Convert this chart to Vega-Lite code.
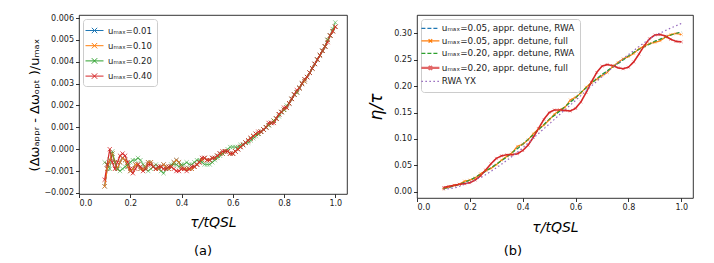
{
"$schema": "https://vega.github.io/schema/vega-lite/v6.json",
"background": "white",
"padding": {"left": 28, "top": 13, "right": 5, "bottom": 5},
"spacing": 19,
"resolve": {"scale": {"color": "independent", "strokeDash": "independent", "opacity": "independent", "strokeWidth": "independent"}, "legend": {"color": "independent", "strokeDash": "independent"}},
"config": {
  "font": "DejaVu Sans",
  "view": {"stroke": "black", "strokeWidth": 0.8},
  "axis": {"grid": false, "domain": false, "tickColor": "black", "tickSize": 3.5, "tickWidth": 0.8, "labelFontSize": 8, "labelColor": "#222", "labelPadding": 2, "titleFontWeight": "normal", "titleColor": "black", "labelFont": "DejaVu Sans", "titleFont": "DejaVu Sans"},
  "title": {"fontSize": 13, "fontWeight": "normal", "color": "black", "font": "DejaVu Sans"}
},
"hconcat": [
{
  "width": 268, "height": 179,
  "title": {"text": "(a)", "orient": "bottom", "frame": "group", "anchor": "middle", "dx": -10, "offset": 15},
  "data": {"values": [
{"s":"0.01","x":0.10,"y":-0.0017},{"s":"0.01","x":0.11,"y":-0.0009},{"s":"0.01","x":0.12,"y":-0.0005},{"s":"0.01","x":0.13,"y":-0.0002},{"s":"0.01","x":0.14,"y":-0.0006},{"s":"0.01","x":0.15,"y":-0.0009},{"s":"0.01","x":0.16,"y":-0.0006},{"s":"0.01","x":0.17,"y":-0.0004},{"s":"0.01","x":0.18,"y":-0.0005},{"s":"0.01","x":0.19,"y":-0.0008},
{"s":"0.01","x":0.20,"y":-0.0010},{"s":"0.01","x":0.21,"y":-0.0009},{"s":"0.01","x":0.22,"y":-0.0007},{"s":"0.01","x":0.23,"y":-0.0007},{"s":"0.01","x":0.24,"y":-0.0009},{"s":"0.01","x":0.25,"y":-0.0009},{"s":"0.01","x":0.26,"y":-0.0008},{"s":"0.01","x":0.27,"y":-0.0006},{"s":"0.01","x":0.28,"y":-0.0006},{"s":"0.01","x":0.29,"y":-0.0008},
{"s":"0.01","x":0.30,"y":-0.0009},{"s":"0.01","x":0.31,"y":-0.0009},{"s":"0.01","x":0.32,"y":-0.0008},{"s":"0.01","x":0.33,"y":-0.0007},{"s":"0.01","x":0.34,"y":-0.0008},{"s":"0.01","x":0.35,"y":-0.0009},{"s":"0.01","x":0.36,"y":-0.0008},{"s":"0.01","x":0.37,"y":-0.0006},{"s":"0.01","x":0.38,"y":-0.0005},{"s":"0.01","x":0.39,"y":-0.0006},
{"s":"0.01","x":0.40,"y":-0.0008},{"s":"0.01","x":0.41,"y":-0.0009},{"s":"0.01","x":0.42,"y":-0.0009},{"s":"0.01","x":0.43,"y":-0.0009},{"s":"0.01","x":0.44,"y":-0.0009},{"s":"0.01","x":0.45,"y":-0.0008},{"s":"0.01","x":0.46,"y":-0.0007},{"s":"0.01","x":0.47,"y":-0.0006},{"s":"0.01","x":0.48,"y":-0.0005},{"s":"0.01","x":0.49,"y":-0.0004},
{"s":"0.01","x":0.50,"y":-0.0005},{"s":"0.01","x":0.51,"y":-0.0005},{"s":"0.01","x":0.52,"y":-0.0004},{"s":"0.01","x":0.53,"y":-0.0004},{"s":"0.01","x":0.54,"y":-0.0003},{"s":"0.01","x":0.55,"y":-0.0002},{"s":"0.01","x":0.56,"y":-0.0002},{"s":"0.01","x":0.57,"y":-0.0001},{"s":"0.01","x":0.58,"y":-0.0001},{"s":"0.01","x":0.59,"y":-0.0002},
{"s":"0.01","x":0.60,"y":-0.0002},{"s":"0.01","x":0.61,"y":-0.0001},{"s":"0.01","x":0.62,"y":0.0000},{"s":"0.01","x":0.63,"y":0.0001},{"s":"0.01","x":0.64,"y":0.0002},{"s":"0.01","x":0.65,"y":0.0003},{"s":"0.01","x":0.66,"y":0.0004},{"s":"0.01","x":0.67,"y":0.0005},{"s":"0.01","x":0.68,"y":0.0006},{"s":"0.01","x":0.69,"y":0.0007},
{"s":"0.01","x":0.70,"y":0.0007},{"s":"0.01","x":0.71,"y":0.0008},{"s":"0.01","x":0.72,"y":0.0009},{"s":"0.01","x":0.73,"y":0.0010},{"s":"0.01","x":0.74,"y":0.0011},{"s":"0.01","x":0.75,"y":0.0012},{"s":"0.01","x":0.76,"y":0.0013},{"s":"0.01","x":0.77,"y":0.0014},{"s":"0.01","x":0.78,"y":0.0016},{"s":"0.01","x":0.79,"y":0.0017},
{"s":"0.01","x":0.80,"y":0.0018},{"s":"0.01","x":0.81,"y":0.0019},{"s":"0.01","x":0.82,"y":0.0021},{"s":"0.01","x":0.83,"y":0.0023},{"s":"0.01","x":0.84,"y":0.0025},{"s":"0.01","x":0.85,"y":0.0026},{"s":"0.01","x":0.86,"y":0.0028},{"s":"0.01","x":0.87,"y":0.0030},{"s":"0.01","x":0.88,"y":0.0031},{"s":"0.01","x":0.89,"y":0.0033},
{"s":"0.01","x":0.90,"y":0.0035},{"s":"0.01","x":0.91,"y":0.0037},{"s":"0.01","x":0.92,"y":0.0039},{"s":"0.01","x":0.93,"y":0.0041},{"s":"0.01","x":0.94,"y":0.0043},{"s":"0.01","x":0.95,"y":0.0045},{"s":"0.01","x":0.96,"y":0.0047},{"s":"0.01","x":0.97,"y":0.0050},{"s":"0.01","x":0.98,"y":0.0052},{"s":"0.01","x":0.99,"y":0.0054},{"s":"0.01","x":1.00,"y":0.0056},

{"s":"0.10","x":0.10,"y":-0.0017},{"s":"0.10","x":0.11,"y":-0.0009},{"s":"0.10","x":0.12,"y":-0.0005},{"s":"0.10","x":0.13,"y":-0.0002},{"s":"0.10","x":0.14,"y":-0.0006},{"s":"0.10","x":0.15,"y":-0.0009},{"s":"0.10","x":0.16,"y":-0.0006},{"s":"0.10","x":0.17,"y":-0.0004},{"s":"0.10","x":0.18,"y":-0.0005},{"s":"0.10","x":0.19,"y":-0.0008},
{"s":"0.10","x":0.20,"y":-0.0010},{"s":"0.10","x":0.21,"y":-0.0009},{"s":"0.10","x":0.22,"y":-0.0007},{"s":"0.10","x":0.23,"y":-0.0007},{"s":"0.10","x":0.24,"y":-0.0009},{"s":"0.10","x":0.25,"y":-0.0009},{"s":"0.10","x":0.26,"y":-0.0008},{"s":"0.10","x":0.27,"y":-0.0006},{"s":"0.10","x":0.28,"y":-0.0006},{"s":"0.10","x":0.29,"y":-0.0008},
{"s":"0.10","x":0.30,"y":-0.0009},{"s":"0.10","x":0.31,"y":-0.0009},{"s":"0.10","x":0.32,"y":-0.0008},{"s":"0.10","x":0.33,"y":-0.0007},{"s":"0.10","x":0.34,"y":-0.0008},{"s":"0.10","x":0.35,"y":-0.0009},{"s":"0.10","x":0.36,"y":-0.0008},{"s":"0.10","x":0.37,"y":-0.0006},{"s":"0.10","x":0.38,"y":-0.0005},{"s":"0.10","x":0.39,"y":-0.0006},
{"s":"0.10","x":0.40,"y":-0.0008},{"s":"0.10","x":0.41,"y":-0.0009},{"s":"0.10","x":0.42,"y":-0.0009},{"s":"0.10","x":0.43,"y":-0.0009},{"s":"0.10","x":0.44,"y":-0.0009},{"s":"0.10","x":0.45,"y":-0.0008},{"s":"0.10","x":0.46,"y":-0.0007},{"s":"0.10","x":0.47,"y":-0.0006},{"s":"0.10","x":0.48,"y":-0.0005},{"s":"0.10","x":0.49,"y":-0.0004},
{"s":"0.10","x":0.50,"y":-0.0005},{"s":"0.10","x":0.51,"y":-0.0005},{"s":"0.10","x":0.52,"y":-0.0004},{"s":"0.10","x":0.53,"y":-0.0004},{"s":"0.10","x":0.54,"y":-0.0003},{"s":"0.10","x":0.55,"y":-0.0002},{"s":"0.10","x":0.56,"y":-0.0002},{"s":"0.10","x":0.57,"y":-0.0001},{"s":"0.10","x":0.58,"y":-0.0001},{"s":"0.10","x":0.59,"y":-0.0002},
{"s":"0.10","x":0.60,"y":-0.0002},{"s":"0.10","x":0.61,"y":-0.0001},{"s":"0.10","x":0.62,"y":0.0000},{"s":"0.10","x":0.63,"y":0.0001},{"s":"0.10","x":0.64,"y":0.0002},{"s":"0.10","x":0.65,"y":0.0003},{"s":"0.10","x":0.66,"y":0.0004},{"s":"0.10","x":0.67,"y":0.0005},{"s":"0.10","x":0.68,"y":0.0006},{"s":"0.10","x":0.69,"y":0.0007},
{"s":"0.10","x":0.70,"y":0.0007},{"s":"0.10","x":0.71,"y":0.0008},{"s":"0.10","x":0.72,"y":0.0009},{"s":"0.10","x":0.73,"y":0.0010},{"s":"0.10","x":0.74,"y":0.0011},{"s":"0.10","x":0.75,"y":0.0012},{"s":"0.10","x":0.76,"y":0.0013},{"s":"0.10","x":0.77,"y":0.0014},{"s":"0.10","x":0.78,"y":0.0016},{"s":"0.10","x":0.79,"y":0.0017},
{"s":"0.10","x":0.80,"y":0.0018},{"s":"0.10","x":0.81,"y":0.0019},{"s":"0.10","x":0.82,"y":0.0021},{"s":"0.10","x":0.83,"y":0.0023},{"s":"0.10","x":0.84,"y":0.0025},{"s":"0.10","x":0.85,"y":0.0026},{"s":"0.10","x":0.86,"y":0.0028},{"s":"0.10","x":0.87,"y":0.0030},{"s":"0.10","x":0.88,"y":0.0031},{"s":"0.10","x":0.89,"y":0.0033},
{"s":"0.10","x":0.90,"y":0.0035},{"s":"0.10","x":0.91,"y":0.0037},{"s":"0.10","x":0.92,"y":0.0039},{"s":"0.10","x":0.93,"y":0.0041},{"s":"0.10","x":0.94,"y":0.0043},{"s":"0.10","x":0.95,"y":0.0045},{"s":"0.10","x":0.96,"y":0.0047},{"s":"0.10","x":0.97,"y":0.0050},{"s":"0.10","x":0.98,"y":0.0052},{"s":"0.10","x":0.99,"y":0.0054},{"s":"0.10","x":1.00,"y":0.0056},

{"s":"0.20","x":0.10,"y":-0.0006},{"s":"0.20","x":0.11,"y":-0.0007},{"s":"0.20","x":0.12,"y":-0.0009},{"s":"0.20","x":0.13,"y":-0.0001},{"s":"0.20","x":0.14,"y":-0.0006},{"s":"0.20","x":0.15,"y":-0.0009},{"s":"0.20","x":0.16,"y":-0.0010},{"s":"0.20","x":0.17,"y":-0.0009},{"s":"0.20","x":0.18,"y":-0.0008},{"s":"0.20","x":0.19,"y":-0.0007},
{"s":"0.20","x":0.20,"y":-0.0006},{"s":"0.20","x":0.21,"y":-0.0005},{"s":"0.20","x":0.22,"y":-0.0005},{"s":"0.20","x":0.23,"y":-0.0004},{"s":"0.20","x":0.24,"y":-0.0005},{"s":"0.20","x":0.25,"y":-0.0007},{"s":"0.20","x":0.26,"y":-0.0009},{"s":"0.20","x":0.27,"y":-0.0010},{"s":"0.20","x":0.28,"y":-0.0009},{"s":"0.20","x":0.29,"y":-0.0008},
{"s":"0.20","x":0.30,"y":-0.0007},{"s":"0.20","x":0.31,"y":-0.0008},{"s":"0.20","x":0.32,"y":-0.0010},{"s":"0.20","x":0.33,"y":-0.0011},{"s":"0.20","x":0.34,"y":-0.0009},{"s":"0.20","x":0.35,"y":-0.0008},{"s":"0.20","x":0.36,"y":-0.0007},{"s":"0.20","x":0.37,"y":-0.0007},{"s":"0.20","x":0.38,"y":-0.0007},{"s":"0.20","x":0.39,"y":-0.0008},
{"s":"0.20","x":0.40,"y":-0.0007},{"s":"0.20","x":0.41,"y":-0.0007},{"s":"0.20","x":0.42,"y":-0.0006},{"s":"0.20","x":0.43,"y":-0.0007},{"s":"0.20","x":0.44,"y":-0.0007},{"s":"0.20","x":0.45,"y":-0.0006},{"s":"0.20","x":0.46,"y":-0.0005},{"s":"0.20","x":0.47,"y":-0.0005},{"s":"0.20","x":0.48,"y":-0.0006},{"s":"0.20","x":0.49,"y":-0.0007},
{"s":"0.20","x":0.50,"y":-0.0007},{"s":"0.20","x":0.51,"y":-0.0007},{"s":"0.20","x":0.52,"y":-0.0006},{"s":"0.20","x":0.53,"y":-0.0005},{"s":"0.20","x":0.54,"y":-0.0004},{"s":"0.20","x":0.55,"y":-0.0003},{"s":"0.20","x":0.56,"y":-0.0002},{"s":"0.20","x":0.57,"y":-0.0001},{"s":"0.20","x":0.58,"y":0.0000},{"s":"0.20","x":0.59,"y":0.0001},
{"s":"0.20","x":0.60,"y":0.0001},{"s":"0.20","x":0.61,"y":0.0001},{"s":"0.20","x":0.62,"y":0.0001},{"s":"0.20","x":0.63,"y":0.0002},{"s":"0.20","x":0.64,"y":0.0002},{"s":"0.20","x":0.65,"y":0.0003},{"s":"0.20","x":0.66,"y":0.0003},{"s":"0.20","x":0.67,"y":0.0004},{"s":"0.20","x":0.68,"y":0.0005},{"s":"0.20","x":0.69,"y":0.0006},
{"s":"0.20","x":0.70,"y":0.0007},{"s":"0.20","x":0.71,"y":0.0008},{"s":"0.20","x":0.72,"y":0.0009},{"s":"0.20","x":0.73,"y":0.0010},{"s":"0.20","x":0.74,"y":0.0011},{"s":"0.20","x":0.75,"y":0.0012},{"s":"0.20","x":0.76,"y":0.0013},{"s":"0.20","x":0.77,"y":0.0014},{"s":"0.20","x":0.78,"y":0.0015},{"s":"0.20","x":0.79,"y":0.0017},
{"s":"0.20","x":0.80,"y":0.0018},{"s":"0.20","x":0.81,"y":0.0020},{"s":"0.20","x":0.82,"y":0.0021},{"s":"0.20","x":0.83,"y":0.0023},{"s":"0.20","x":0.84,"y":0.0025},{"s":"0.20","x":0.85,"y":0.0026},{"s":"0.20","x":0.86,"y":0.0028},{"s":"0.20","x":0.87,"y":0.0030},{"s":"0.20","x":0.88,"y":0.0032},{"s":"0.20","x":0.89,"y":0.0033},
{"s":"0.20","x":0.90,"y":0.0035},{"s":"0.20","x":0.91,"y":0.0037},{"s":"0.20","x":0.92,"y":0.0039},{"s":"0.20","x":0.93,"y":0.0041},{"s":"0.20","x":0.94,"y":0.0043},{"s":"0.20","x":0.95,"y":0.0045},{"s":"0.20","x":0.96,"y":0.0047},{"s":"0.20","x":0.97,"y":0.0050},{"s":"0.20","x":0.98,"y":0.0052},{"s":"0.20","x":0.99,"y":0.0055},{"s":"0.20","x":1.00,"y":0.0058},

{"s":"0.40","x":0.10,"y":-0.0014},{"s":"0.40","x":0.11,"y":-0.0007},{"s":"0.40","x":0.12,"y":0.0000},{"s":"0.40","x":0.13,"y":-0.0006},{"s":"0.40","x":0.14,"y":-0.0009},{"s":"0.40","x":0.15,"y":-0.0006},{"s":"0.40","x":0.16,"y":-0.0003},{"s":"0.40","x":0.17,"y":-0.0002},{"s":"0.40","x":0.18,"y":-0.0003},{"s":"0.40","x":0.19,"y":-0.0006},
{"s":"0.40","x":0.20,"y":-0.0009},{"s":"0.40","x":0.21,"y":-0.0011},{"s":"0.40","x":0.22,"y":-0.0009},{"s":"0.40","x":0.23,"y":-0.0007},{"s":"0.40","x":0.24,"y":-0.0008},{"s":"0.40","x":0.25,"y":-0.0010},{"s":"0.40","x":0.26,"y":-0.0009},{"s":"0.40","x":0.27,"y":-0.0007},{"s":"0.40","x":0.28,"y":-0.0007},{"s":"0.40","x":0.29,"y":-0.0008},
{"s":"0.40","x":0.30,"y":-0.0009},{"s":"0.40","x":0.31,"y":-0.0008},{"s":"0.40","x":0.32,"y":-0.0008},{"s":"0.40","x":0.33,"y":-0.0009},{"s":"0.40","x":0.34,"y":-0.0009},{"s":"0.40","x":0.35,"y":-0.0008},{"s":"0.40","x":0.36,"y":-0.0008},{"s":"0.40","x":0.37,"y":-0.0009},{"s":"0.40","x":0.38,"y":-0.0010},{"s":"0.40","x":0.39,"y":-0.0010},
{"s":"0.40","x":0.40,"y":-0.0009},{"s":"0.40","x":0.41,"y":-0.0009},{"s":"0.40","x":0.42,"y":-0.0010},{"s":"0.40","x":0.43,"y":-0.0009},{"s":"0.40","x":0.44,"y":-0.0008},{"s":"0.40","x":0.45,"y":-0.0008},{"s":"0.40","x":0.46,"y":-0.0007},{"s":"0.40","x":0.47,"y":-0.0006},{"s":"0.40","x":0.48,"y":-0.0004},{"s":"0.40","x":0.49,"y":-0.0004},
{"s":"0.40","x":0.50,"y":-0.0005},{"s":"0.40","x":0.51,"y":-0.0005},{"s":"0.40","x":0.52,"y":-0.0004},{"s":"0.40","x":0.53,"y":-0.0004},{"s":"0.40","x":0.54,"y":-0.0003},{"s":"0.40","x":0.55,"y":-0.0002},{"s":"0.40","x":0.56,"y":-0.0001},{"s":"0.40","x":0.57,"y":-0.0001},{"s":"0.40","x":0.58,"y":-0.0001},{"s":"0.40","x":0.59,"y":-0.0002},
{"s":"0.40","x":0.60,"y":-0.0002},{"s":"0.40","x":0.61,"y":-0.0001},{"s":"0.40","x":0.62,"y":0.0000},{"s":"0.40","x":0.63,"y":0.0001},{"s":"0.40","x":0.64,"y":0.0002},{"s":"0.40","x":0.65,"y":0.0003},{"s":"0.40","x":0.66,"y":0.0004},{"s":"0.40","x":0.67,"y":0.0005},{"s":"0.40","x":0.68,"y":0.0006},{"s":"0.40","x":0.69,"y":0.0007},
{"s":"0.40","x":0.70,"y":0.0008},{"s":"0.40","x":0.71,"y":0.0008},{"s":"0.40","x":0.72,"y":0.0009},{"s":"0.40","x":0.73,"y":0.0010},{"s":"0.40","x":0.74,"y":0.0012},{"s":"0.40","x":0.75,"y":0.0012},{"s":"0.40","x":0.76,"y":0.0012},{"s":"0.40","x":0.77,"y":0.0014},{"s":"0.40","x":0.78,"y":0.0016},{"s":"0.40","x":0.79,"y":0.0017},
{"s":"0.40","x":0.80,"y":0.0019},{"s":"0.40","x":0.81,"y":0.0019},{"s":"0.40","x":0.82,"y":0.0021},{"s":"0.40","x":0.83,"y":0.0023},{"s":"0.40","x":0.84,"y":0.0025},{"s":"0.40","x":0.85,"y":0.0027},{"s":"0.40","x":0.86,"y":0.0028},{"s":"0.40","x":0.87,"y":0.0030},{"s":"0.40","x":0.88,"y":0.0032},{"s":"0.40","x":0.89,"y":0.0033},
{"s":"0.40","x":0.90,"y":0.0035},{"s":"0.40","x":0.91,"y":0.0037},{"s":"0.40","x":0.92,"y":0.0039},{"s":"0.40","x":0.93,"y":0.0041},{"s":"0.40","x":0.94,"y":0.0043},{"s":"0.40","x":0.95,"y":0.0045},{"s":"0.40","x":0.96,"y":0.0047},{"s":"0.40","x":0.97,"y":0.0049},{"s":"0.40","x":0.98,"y":0.0052},{"s":"0.40","x":0.99,"y":0.0054},{"s":"0.40","x":1.00,"y":0.0056}
  ]},
  "encoding": {
    "x": {"field": "x", "type": "quantitative", "scale": {"domain": [0, 1.0456], "nice": false, "zero": false},
          "axis": {"values": [0, 0.2, 0.4, 0.6, 0.8, 1.0], "format": ".1f", "title": "τ/tQSL", "titleFontSize": 14, "titleFontStyle": "italic", "titlePadding": 8}},
    "y": {"field": "y", "type": "quantitative", "scale": {"domain": [-0.00205, 0.00614], "nice": false, "zero": false},
          "axis": {"values": [-0.002, -0.001, 0, 0.001, 0.002, 0.003, 0.004, 0.005, 0.006], "format": ".3f", "title": "(Δωₐₚₚᵣ - Δωₒₚₜ )/uₘₐₓ", "titleFontSize": 13, "titlePadding": 2}},
    "color": {"field": "s", "type": "nominal",
      "scale": {"domain": ["0.01", "0.10", "0.20", "0.40"], "range": ["#1f77b4", "#ff7f0e", "#2ca02c", "#d62728"]},
      "legend": {"orient": "top-left", "offset": 4, "title": null, "labelExpr": "'uₘₐₓ=' + datum.label",
        "symbolType": "M-1.5,0L1.5,0M-0.45,-0.45L0.45,0.45M-0.45,0.45L0.45,-0.45", "symbolSize": 144, "symbolStrokeWidth": 1,
        "labelFontSize": 8.5, "labelOffset": 7, "rowPadding": 3.2, "padding": 5, "strokeColor": "#ccc", "fillColor": "white", "cornerRadius": 3, "labelColor": "#222",
        "encode": {"symbols": {"update": {
          "fill": {"value": "transparent"},
          "stroke": {"signal": "datum.value == '0.01' ? '#1f77b4' : datum.value == '0.10' ? '#ff7f0e' : datum.value == '0.20' ? '#2ca02c' : '#d62728'"},
          "opacity": {"signal": "datum.value == '0.20' ? 0.6 : 1"},
          "strokeWidth": {"signal": "datum.value == '0.20' ? 1.8 : 1"}}}}}
    }
  },
  "layer": [
    {"mark": {"type": "line", "strokeWidth": 1.2},
     "encoding": {"opacity": {"condition": {"test": "datum.s == '0.20'", "value": 0.6}, "value": 1},
                  "strokeWidth": {"condition": {"test": "datum.s == '0.20'", "value": 1.8}, "value": 1.2}}},
    {"mark": {"type": "point", "shape": "M-1,-1L1,1M-1,1L1,-1", "filled": false, "size": 18, "strokeWidth": 0.8},
     "encoding": {"opacity": {"condition": {"test": "datum.s == '0.20'", "value": 0.6}, "value": 1}}}
  ]
},
{
  "width": 276, "height": 183,
  "title": {"text": "(b)", "orient": "bottom", "frame": "group", "anchor": "middle", "dx": -42, "offset": 10},
  "data": {"values": [
{"s":"bd","x":0.10,"y":0.006},{"s":"bd","x":0.12,"y":0.008},{"s":"bd","x":0.14,"y":0.011},{"s":"bd","x":0.16,"y":0.014},{"s":"bd","x":0.18,"y":0.018},{"s":"bd","x":0.20,"y":0.022},{"s":"bd","x":0.22,"y":0.027},{"s":"bd","x":0.24,"y":0.033},{"s":"bd","x":0.26,"y":0.039},{"s":"bd","x":0.28,"y":0.045},
{"s":"bd","x":0.30,"y":0.052},{"s":"bd","x":0.32,"y":0.059},{"s":"bd","x":0.34,"y":0.066},{"s":"bd","x":0.36,"y":0.074},{"s":"bd","x":0.38,"y":0.082},{"s":"bd","x":0.40,"y":0.090},{"s":"bd","x":0.42,"y":0.099},{"s":"bd","x":0.44,"y":0.108},{"s":"bd","x":0.46,"y":0.118},{"s":"bd","x":0.48,"y":0.127},
{"s":"bd","x":0.50,"y":0.137},{"s":"bd","x":0.52,"y":0.145},{"s":"bd","x":0.54,"y":0.153},{"s":"bd","x":0.56,"y":0.161},{"s":"bd","x":0.58,"y":0.170},{"s":"bd","x":0.60,"y":0.178},{"s":"bd","x":0.62,"y":0.188},{"s":"bd","x":0.64,"y":0.197},{"s":"bd","x":0.66,"y":0.206},{"s":"bd","x":0.68,"y":0.214},
{"s":"bd","x":0.70,"y":0.222},{"s":"bd","x":0.72,"y":0.229},{"s":"bd","x":0.74,"y":0.236},{"s":"bd","x":0.76,"y":0.243},{"s":"bd","x":0.78,"y":0.250},{"s":"bd","x":0.80,"y":0.257},{"s":"bd","x":0.82,"y":0.264},{"s":"bd","x":0.84,"y":0.270},{"s":"bd","x":0.86,"y":0.275},{"s":"bd","x":0.88,"y":0.280},
{"s":"bd","x":0.90,"y":0.285},{"s":"bd","x":0.92,"y":0.289},{"s":"bd","x":0.94,"y":0.293},{"s":"bd","x":0.96,"y":0.297},{"s":"bd","x":0.98,"y":0.300},{"s":"bd","x":1.00,"y":0.303},

{"s":"of","x":0.10,"y":0.005},{"s":"of","x":0.12,"y":0.009},{"s":"of","x":0.14,"y":0.012},{"s":"of","x":0.16,"y":0.014},{"s":"of","x":0.18,"y":0.020},{"s":"of","x":0.20,"y":0.022},{"s":"of","x":0.22,"y":0.026},{"s":"of","x":0.24,"y":0.034},{"s":"of","x":0.26,"y":0.040},{"s":"of","x":0.28,"y":0.044},
{"s":"of","x":0.30,"y":0.051},{"s":"of","x":0.32,"y":0.060},{"s":"of","x":0.34,"y":0.067},{"s":"of","x":0.36,"y":0.074},{"s":"of","x":0.38,"y":0.086},{"s":"of","x":0.40,"y":0.090},{"s":"of","x":0.42,"y":0.098},{"s":"of","x":0.44,"y":0.110},{"s":"of","x":0.46,"y":0.119},{"s":"of","x":0.48,"y":0.126},
{"s":"of","x":0.50,"y":0.136},{"s":"of","x":0.52,"y":0.147},{"s":"of","x":0.54,"y":0.155},{"s":"of","x":0.56,"y":0.160},{"s":"of","x":0.58,"y":0.174},{"s":"of","x":0.60,"y":0.179},{"s":"of","x":0.62,"y":0.187},{"s":"of","x":0.64,"y":0.198},{"s":"of","x":0.66,"y":0.207},{"s":"of","x":0.68,"y":0.213},
{"s":"of","x":0.70,"y":0.220},{"s":"of","x":0.72,"y":0.226},{"s":"of","x":0.74,"y":0.237},{"s":"of","x":0.76,"y":0.245},{"s":"of","x":0.78,"y":0.252},{"s":"of","x":0.80,"y":0.256},{"s":"of","x":0.82,"y":0.262},{"s":"of","x":0.84,"y":0.271},{"s":"of","x":0.86,"y":0.276},{"s":"of","x":0.88,"y":0.281},
{"s":"of","x":0.90,"y":0.283},{"s":"of","x":0.92,"y":0.286},{"s":"of","x":0.94,"y":0.293},{"s":"of","x":0.96,"y":0.298},{"s":"of","x":0.98,"y":0.300},{"s":"of","x":1.00,"y":0.298},

{"s":"gd","x":0.10,"y":0.006},{"s":"gd","x":0.12,"y":0.008},{"s":"gd","x":0.14,"y":0.011},{"s":"gd","x":0.16,"y":0.014},{"s":"gd","x":0.18,"y":0.018},{"s":"gd","x":0.20,"y":0.022},{"s":"gd","x":0.22,"y":0.027},{"s":"gd","x":0.24,"y":0.033},{"s":"gd","x":0.26,"y":0.039},{"s":"gd","x":0.28,"y":0.045},
{"s":"gd","x":0.30,"y":0.052},{"s":"gd","x":0.32,"y":0.059},{"s":"gd","x":0.34,"y":0.066},{"s":"gd","x":0.36,"y":0.074},{"s":"gd","x":0.38,"y":0.082},{"s":"gd","x":0.40,"y":0.090},{"s":"gd","x":0.42,"y":0.099},{"s":"gd","x":0.44,"y":0.108},{"s":"gd","x":0.46,"y":0.118},{"s":"gd","x":0.48,"y":0.127},
{"s":"gd","x":0.50,"y":0.137},{"s":"gd","x":0.52,"y":0.145},{"s":"gd","x":0.54,"y":0.153},{"s":"gd","x":0.56,"y":0.161},{"s":"gd","x":0.58,"y":0.170},{"s":"gd","x":0.60,"y":0.178},{"s":"gd","x":0.62,"y":0.188},{"s":"gd","x":0.64,"y":0.197},{"s":"gd","x":0.66,"y":0.206},{"s":"gd","x":0.68,"y":0.214},
{"s":"gd","x":0.70,"y":0.222},{"s":"gd","x":0.72,"y":0.229},{"s":"gd","x":0.74,"y":0.236},{"s":"gd","x":0.76,"y":0.243},{"s":"gd","x":0.78,"y":0.250},{"s":"gd","x":0.80,"y":0.257},{"s":"gd","x":0.82,"y":0.264},{"s":"gd","x":0.84,"y":0.270},{"s":"gd","x":0.86,"y":0.275},{"s":"gd","x":0.88,"y":0.280},
{"s":"gd","x":0.90,"y":0.285},{"s":"gd","x":0.92,"y":0.289},{"s":"gd","x":0.94,"y":0.293},{"s":"gd","x":0.96,"y":0.297},{"s":"gd","x":0.98,"y":0.300},{"s":"gd","x":1.00,"y":0.303},

{"s":"rf","x":0.10,"y":0.008},{"s":"rf","x":0.12,"y":0.010},{"s":"rf","x":0.14,"y":0.012},{"s":"rf","x":0.16,"y":0.014},{"s":"rf","x":0.18,"y":0.015},{"s":"rf","x":0.20,"y":0.017},{"s":"rf","x":0.22,"y":0.022},{"s":"rf","x":0.24,"y":0.030},{"s":"rf","x":0.26,"y":0.041},{"s":"rf","x":0.28,"y":0.053},
{"s":"rf","x":0.30,"y":0.063},{"s":"rf","x":0.32,"y":0.068},{"s":"rf","x":0.34,"y":0.070},{"s":"rf","x":0.36,"y":0.070},{"s":"rf","x":0.38,"y":0.072},{"s":"rf","x":0.40,"y":0.078},{"s":"rf","x":0.42,"y":0.088},{"s":"rf","x":0.44,"y":0.103},{"s":"rf","x":0.46,"y":0.120},{"s":"rf","x":0.48,"y":0.137},
{"s":"rf","x":0.50,"y":0.150},{"s":"rf","x":0.52,"y":0.155},{"s":"rf","x":0.54,"y":0.155},{"s":"rf","x":0.56,"y":0.154},{"s":"rf","x":0.58,"y":0.153},{"s":"rf","x":0.60,"y":0.158},{"s":"rf","x":0.62,"y":0.170},{"s":"rf","x":0.64,"y":0.188},{"s":"rf","x":0.66,"y":0.208},{"s":"rf","x":0.68,"y":0.226},
{"s":"rf","x":0.70,"y":0.238},{"s":"rf","x":0.72,"y":0.241},{"s":"rf","x":0.74,"y":0.239},{"s":"rf","x":0.76,"y":0.235},{"s":"rf","x":0.78,"y":0.233},{"s":"rf","x":0.80,"y":0.236},{"s":"rf","x":0.82,"y":0.246},{"s":"rf","x":0.84,"y":0.261},{"s":"rf","x":0.86,"y":0.277},{"s":"rf","x":0.88,"y":0.290},
{"s":"rf","x":0.90,"y":0.297},{"s":"rf","x":0.92,"y":0.298},{"s":"rf","x":0.94,"y":0.295},{"s":"rf","x":0.96,"y":0.289},{"s":"rf","x":0.98,"y":0.285},{"s":"rf","x":1.00,"y":0.284},

{"s":"yx","x":0.10,"y":0.004},{"s":"yx","x":0.15,"y":0.008},{"s":"yx","x":0.20,"y":0.018},{"s":"yx","x":0.25,"y":0.029},{"s":"yx","x":0.30,"y":0.045},{"s":"yx","x":0.35,"y":0.063},{"s":"yx","x":0.40,"y":0.083},{"s":"yx","x":0.45,"y":0.106},{"s":"yx","x":0.50,"y":0.128},{"s":"yx","x":0.55,"y":0.151},
{"s":"yx","x":0.60,"y":0.173},{"s":"yx","x":0.65,"y":0.196},{"s":"yx","x":0.70,"y":0.218},{"s":"yx","x":0.75,"y":0.240},{"s":"yx","x":0.80,"y":0.260},{"s":"yx","x":0.85,"y":0.279},{"s":"yx","x":0.90,"y":0.296},{"s":"yx","x":0.95,"y":0.308},{"s":"yx","x":1.00,"y":0.319}
  ]},
  "encoding": {
    "x": {"field": "x", "type": "quantitative", "scale": {"domain": [0, 1.0443], "nice": false, "zero": false},
          "axis": {"values": [0, 0.2, 0.4, 0.6, 0.8, 1.0], "format": ".1f", "title": "τ/tQSL", "titleFontSize": 14, "titleFontStyle": "italic", "titlePadding": 9}},
    "y": {"field": "y", "type": "quantitative", "scale": {"domain": [-0.012, 0.335], "nice": false, "zero": false},
          "axis": {"values": [0, 0.05, 0.1, 0.15, 0.2, 0.25, 0.3], "format": ".2f", "title": "η/τ", "titleFontSize": 17, "titleFontStyle": "italic", "titlePadding": 8}},
    "color": {"field": "s", "type": "nominal",
      "scale": {"domain": ["bd", "of", "gd", "rf", "yx"], "range": ["#1f77b4", "#ff7f0e", "#2ca02c", "#d62728", "#9467bd"]},
      "legend": {"orient": "top-left", "offset": 4, "title": null,
        "labelExpr": "datum.label == 'bd' ? 'uₘₐₓ=0.05, appr. detune, RWA' : datum.label == 'of' ? 'uₘₐₓ=0.05, appr. detune, full' : datum.label == 'gd' ? 'uₘₐₓ=0.20, appr. detune, RWA' : datum.label == 'rf' ? 'uₘₐₓ=0.20, appr. detune, full' : 'RWA YX'",
        "symbolType": "M-1.5,0L1.5,0", "symbolSize": 144, "symbolStrokeWidth": 1.2,
        "labelFontSize": 8.8, "labelOffset": 7, "rowPadding": 2.5, "padding": 5, "labelLimit": 200, "strokeColor": "#ccc", "fillColor": "white", "cornerRadius": 3, "labelColor": "#222",
        "encode": {"symbols": {"update": {
          "fill": {"value": "transparent"},
          "shape": {"signal": "datum.value == 'of' || datum.value == 'rf' ? 'M-1.5,0L1.5,0M-0.3,-0.3L0.3,0.3M-0.3,0.3L0.3,-0.3' : 'M-1.5,0L1.5,0'"},
          "strokeWidth": {"signal": "datum.value == 'rf' ? 2.2 : 1.2"},
          "opacity": {"signal": "datum.value == 'rf' ? 0.7 : 1"}}}}}
    },
    "strokeDash": {"field": "s", "type": "nominal", "scale": {"domain": ["bd", "of", "gd", "rf", "yx"], "range": [[4, 2], [1, 0], [4, 2], [1, 0], [1.5, 2.5]]}}
  },
  "layer": [
    {"mark": {"type": "line"},
     "encoding": {
       "strokeWidth": {"condition": {"test": "datum.s == 'rf'", "value": 1.6}, "value": 1.2}}},
    {"transform": [{"filter": "datum.s == 'of' || datum.s == 'rf'"}],
     "mark": {"type": "point", "shape": "M-1,-1L1,1M-1,1L1,-1", "filled": false, "size": 8, "strokeWidth": 0.7},
     "encoding": {"strokeDash": {"value": [1, 0]}}}
  ]
}
]
}
